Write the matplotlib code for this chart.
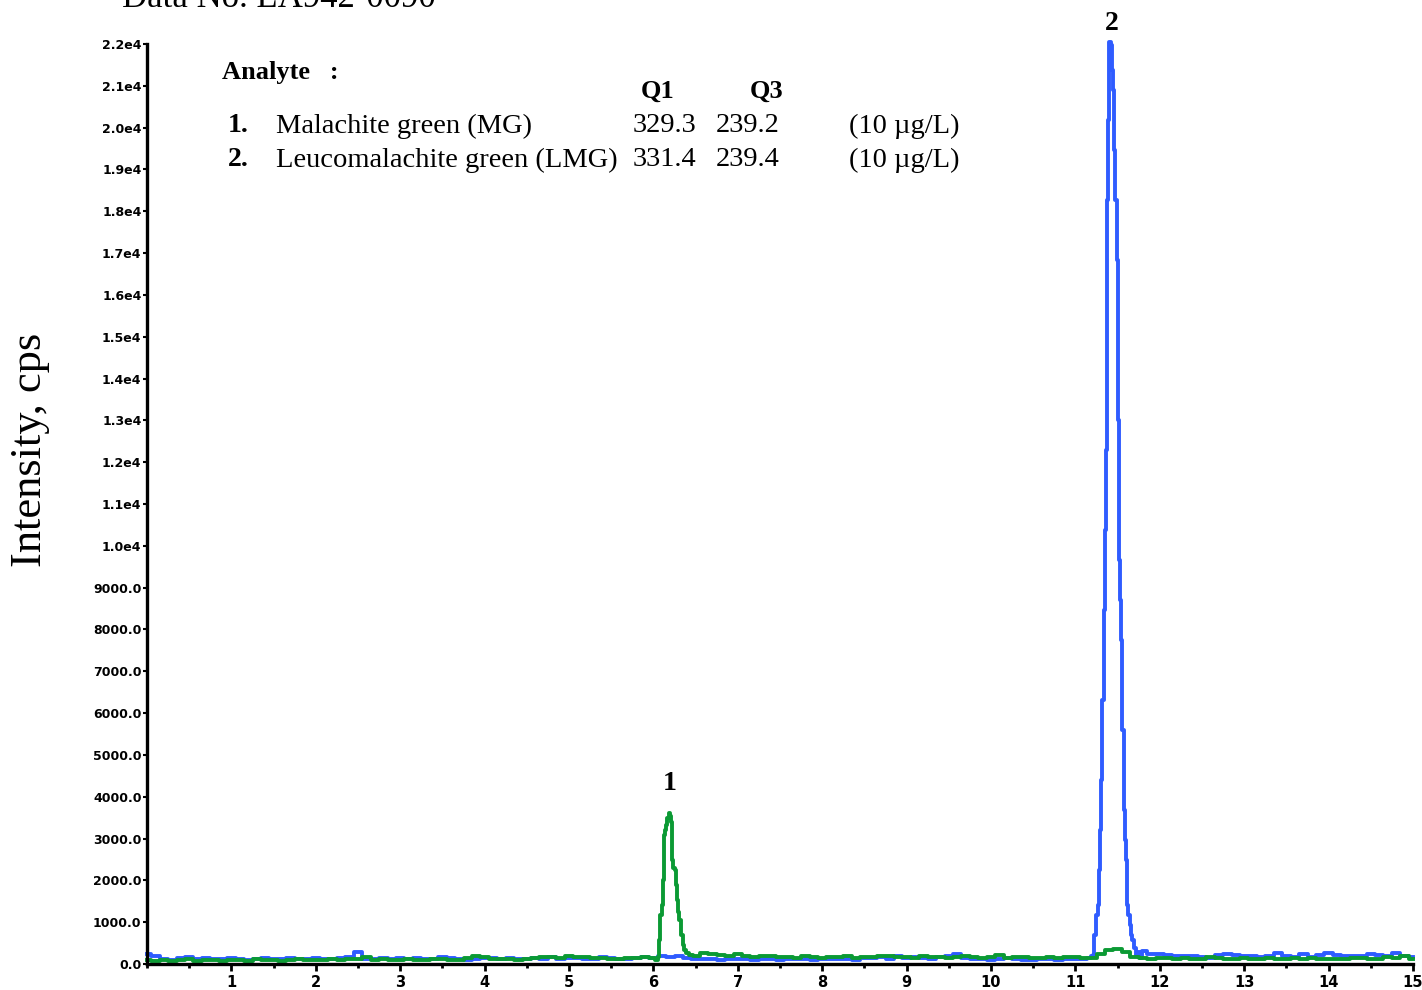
"""
LC-MS/MS MRM chromatogram: malachite green (MG) and leucomalachite green (LMG).
Rebuilt as a static matplotlib figure -> out.png
"""

import matplotlib
matplotlib.use("Agg")
import matplotlib.pyplot as plt
import numpy as np
from matplotlib.ticker import FuncFormatter, MultipleLocator

# ── Data ─────────────────────────────────────────────────────────────────────
# baseline acquisition grid, 0.1 min
BASE_T = np.round(np.arange(0.0, 15.01, 0.1), 1)

# LMG trace (blue) baseline, cps, t = 0.0 … 15.0
LMG_BASE = [
    250, 180, 120, 90, 140, 160, 120, 150, 110, 130, 140,
    120, 100, 130, 150, 120, 110, 140, 130, 120, 150,
    130, 120, 140, 160, 280, 130, 110, 150, 120, 140,
    130, 150, 120, 110, 160, 140, 120, 100, 130, 150,
    140, 120, 150, 130, 110, 140, 120, 160, 130, 150,
    140, 130, 120, 170, 150, 130, 110, 140, 160, 150,
    180, 160, 190, 150, 130, 110, 120, 100, 130, 110,
    120, 100, 130, 110, 90, 120, 110, 130, 100, 120,
    110, 130, 120, 100, 140, 150, 160, 130, 180, 150,
    170, 140, 130, 160, 190, 240, 150, 130, 120, 90,
    120, 140, 110, 100, 90, 120, 110, 100, 130, 110,
    130, 140, 150, 160, 170, 180, 190, 320, 250, 240,
    220, 200, 190, 190, 160, 150, 220, 230, 210, 180,
    200, 170, 190, 260, 180, 170, 230, 160, 210, 270,
    220, 180, 200, 190, 230, 210, 190, 270, 200, 160,
]

# MG trace (green) baseline, cps, t = 0.0 … 15.0
MG_BASE = [
    90, 80, 100, 70, 90, 110, 80, 100, 90, 80, 100,
    90, 80, 110, 100, 90, 80, 100, 110, 90, 100,
    90, 110, 100, 120, 130, 170, 100, 110, 90, 100,
    110, 90, 100, 120, 110, 100, 90, 140, 180, 170,
    120, 110, 130, 100, 120, 150, 170, 160, 140, 180,
    170, 160, 150, 140, 130, 120, 150, 140, 160, 150,
    150, 160, 170, 180, 200, 260, 230, 210, 200, 230,
    190, 170, 200, 180, 160, 170, 150, 180, 160, 150,
    170, 160, 190, 150, 170, 160, 200, 180, 160, 170,
    150, 180, 160, 170, 150, 160, 190, 170, 140, 160,
    210, 150, 160, 170, 150, 140, 160, 150, 170, 160,
    150, 150, 250, 330, 360, 280, 160, 140, 130, 150,
    140, 120, 150, 130, 120, 160, 140, 130, 120, 150,
    130, 120, 140, 110, 130, 150, 120, 140, 130, 110,
    130, 120, 140, 150, 120, 130, 160, 140, 190, 120,
]

# peak 2 (LMG) at ~11.41 min
LMG_PEAK_T = [
    11.173, 11.197, 11.209, 11.232, 11.256, 11.280, 11.291, 11.303,
    11.315, 11.327, 11.339, 11.351, 11.363, 11.374, 11.386, 11.398,
    11.410, 11.422, 11.434, 11.446, 11.457, 11.469, 11.481, 11.493,
    11.505, 11.517, 11.528, 11.540, 11.552, 11.564, 11.576, 11.588,
    11.600, 11.611, 11.623, 11.635, 11.647, 11.659, 11.682, 11.706,
    11.730, 11.754, 11.777,
]
LMG_PEAK_I = [
    150, 200, 215, 690, 1170, 1410, 2250, 3200,
    4400, 6310, 8470, 10380, 12290, 15160, 18270, 20180,
    22050, 21980, 21380, 20900, 20410, 19460, 18270, 16830,
    13000, 11090, 9660, 8700, 7740, 5590, 3680, 2960,
    2490, 1770, 1410, 1170, 930, 690, 570, 380,
    215, 290, 140,
]

# peak 1 (MG) at ~6.19 min
MG_PEAK_T = [
    6.043, 6.066, 6.078, 6.090, 6.102, 6.114, 6.126, 6.137,
    6.149, 6.161, 6.173, 6.185, 6.197, 6.209, 6.220, 6.232,
    6.244, 6.256, 6.268, 6.280, 6.292, 6.315, 6.339, 6.351,
    6.374, 6.398, 6.434,
]
MG_PEAK_I = [
    100, 170, 570, 1170, 1410, 2010, 2490, 3080,
    3200, 3320, 3490, 3610, 3540, 3390, 2960, 2490,
    2290, 2250, 1890, 1530, 1240, 1050, 690, 450,
    330, 260, 215,
]

ANALYTES = ["Malachite green (MG)", "Leucomalachite green (LMG)"]
Q1 = ["329.3", "331.4"]
Q3 = ["239.2", "239.4"]
CONC = ["(10 µg/L)", "(10 µg/L)"]

BLUE = "#2f5cff"
GREEN = "#0b9a34"
SERIF = "Liberation Serif"

W, H = 1422, 990


def merge(base_t, base_i, peak_t, peak_i):
    """Splice the finely sampled peak into the coarse baseline."""
    base_t = np.asarray(base_t, float)
    base_i = np.asarray(base_i, float)
    peak_t = np.asarray(peak_t, float)
    keep = (base_t < peak_t[0]) | (base_t > peak_t[-1])
    t = np.concatenate([base_t[keep], peak_t])
    i = np.concatenate([base_i[keep], np.asarray(peak_i, float)])
    order = np.argsort(t)
    return t[order], i[order]


def ytick_fmt(v, _):
    if v >= 10000:
        return f"{v / 1e4:.1f}e4"
    return f"{v:.1f}"


def px(x, y):
    """pixel position -> figure fraction"""
    return x / W, 1 - y / H


# ── Plot ─────────────────────────────────────────────────────────────────────
fig = plt.figure(figsize=(W / 100, H / 100), dpi=100)
ax = fig.add_axes([147 / W, 1 - 964 / H, (1413 - 147) / W, (964 - 44) / H])

t_b, i_b = merge(BASE_T, LMG_BASE, LMG_PEAK_T, LMG_PEAK_I)
t_g, i_g = merge(BASE_T, MG_BASE, MG_PEAK_T, MG_PEAK_I)
ax.plot(t_b, i_b, color=BLUE, lw=2.8, drawstyle="steps-mid", clip_on=False,
        zorder=3)
ax.plot(t_g, i_g, color=GREEN, lw=2.8, drawstyle="steps-mid", clip_on=False,
        zorder=4)

ax.set_xlim(0, 15)
ax.set_ylim(0, 22000)
for s in ("top", "right"):
    ax.spines[s].set_visible(False)
for s in ("left", "bottom"):
    ax.spines[s].set_linewidth(2.4)
    ax.spines[s].set_zorder(5)

ax.xaxis.set_major_locator(MultipleLocator(1))
ax.xaxis.set_minor_locator(MultipleLocator(0.5))
ax.yaxis.set_major_locator(MultipleLocator(1000))
ax.yaxis.set_major_formatter(FuncFormatter(ytick_fmt))
ax.set_xticks(range(1, 16))
ax.tick_params(axis="x", which="major", direction="out", length=5, width=2,
               labelsize=10.5, pad=3)
ax.tick_params(axis="x", which="minor", direction="out", length=3, width=2)
ax.tick_params(axis="y", direction="out", length=3, width=1.5, labelsize=9,
               pad=1)
for lab in ax.get_xticklabels() + ax.get_yticklabels():
    lab.set_fontweight("bold")

# axis label + (cut-off) header
fig.text(*px(30, 450), "Intensity, cps", rotation=90, ha="center",
         va="center", fontsize=32, family=SERIF)
fig.text(*px(122, 7), "Data No. LA942-0090", ha="left", va="baseline",
         fontsize=25, family=SERIF)

# analyte table
fig.text(*px(222, 73), "Analyte   :", ha="left", va="center", fontsize=19,
         family=SERIF, fontweight="bold")
fig.text(*px(658, 91), "Q1", ha="center", va="center", fontsize=19,
         family=SERIF, fontweight="bold")
fig.text(*px(767, 91), "Q3", ha="center", va="center", fontsize=19,
         family=SERIF, fontweight="bold")
for k, y in enumerate((126, 160)):
    fig.text(*px(228, y), f"{k + 1}.", ha="left", va="center", fontsize=20,
             family=SERIF, fontweight="bold")
    fig.text(*px(276, y), ANALYTES[k], ha="left", va="center", fontsize=20.5,
             family=SERIF)
    fig.text(*px(633, y), Q1[k], ha="left", va="center", fontsize=20.5,
             family=SERIF)
    fig.text(*px(716, y), Q3[k], ha="left", va="center", fontsize=20.5,
             family=SERIF)
    fig.text(*px(849, y), CONC[k], ha="left", va="center", fontsize=20.5,
             family=SERIF)

# peak numbers
fig.text(*px(670, 783), "1", ha="center", va="center", fontsize=20,
         family=SERIF, fontweight="bold")
fig.text(*px(1112, 23), "2", ha="center", va="center", fontsize=20,
         family=SERIF, fontweight="bold")

fig.savefig("out.png", dpi=100)
